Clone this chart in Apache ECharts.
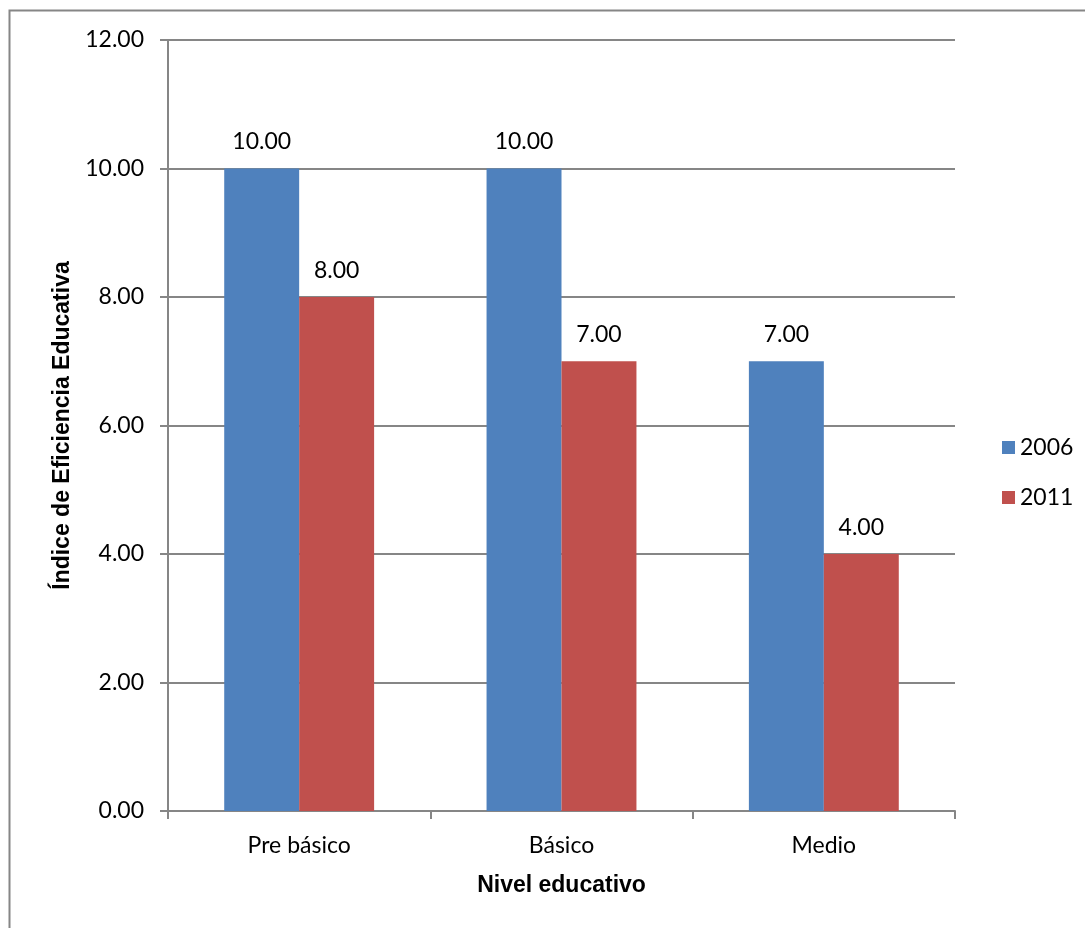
<!DOCTYPE html>
<html>
<head>
<meta charset="utf-8">
<script src="https://cdn.jsdelivr.net/npm/echarts@6/dist/echarts.min.js"></script>
<style>
  html, body { margin: 0; padding: 0; background: #fff; }
  #main { width: 1085px; height: 928px; }
</style>
</head>
<body>
<div id="main"></div>
<script>
var categories = ['Pre básico', 'Básico', 'Medio'];
var values2006 = [10, 10, 7];
var values2011 = [8, 7, 4];
var seriesNames = ['2006', '2011'];

var chart = echarts.init(document.getElementById('main'));
var font = 'Lato, "Open Sans", sans-serif';
var boldFont = '"Liberation Sans Narrow", "Liberation Sans", sans-serif';
var fs = 23;

function barLabel() {
  return {
    show: true,
    position: 'top',
    distance: 15,
    color: '#000',
    fontFamily: font,
    fontSize: fs,
    formatter: function (p) { return p.value.toFixed(2); }
  };
}

var option = {
  backgroundColor: '#ffffff',
  animation: false,
  graphic: [{
    type: 'rect',
    shape: { x: 9.5, y: 10.5, width: 1200, height: 1000 },
    style: { fill: 'none', stroke: '#868686', lineWidth: 2 }
  }],
  grid: {
    left: 168,
    top: 40,
    width: 787,
    height: 771
  },
  legend: {
    orient: 'vertical',
    left: 997,
    top: 431,
    itemWidth: 13,
    itemHeight: 13,
    itemGap: 27,
    icon: 'rect',
    textStyle: { fontFamily: font, fontSize: fs, color: '#000' },
    data: seriesNames
  },
  xAxis: {
    type: 'category',
    data: categories,
    name: 'Nivel educativo',
    nameLocation: 'middle',
    nameGap: 63,
    nameTextStyle: { fontFamily: boldFont, fontWeight: 'bold', fontSize: fs, color: '#000' },
    axisLine: { lineStyle: { color: '#868686', width: 2 } },
    axisTick: { show: true, length: 8, lineStyle: { color: '#868686', width: 2 } },
    axisLabel: { fontFamily: font, fontSize: fs, color: '#000', margin: 23 }
  },
  yAxis: {
    type: 'value',
    min: 0,
    max: 12,
    interval: 2,
    name: 'Índice de Eficiencia Educativa',
    nameLocation: 'middle',
    nameGap: 94,
    nameTextStyle: { fontFamily: boldFont, fontWeight: 'bold', fontSize: fs, color: '#000' },
    axisLine: { show: true, lineStyle: { color: '#868686', width: 2 } },
    axisTick: { show: true, length: 8, lineStyle: { color: '#868686', width: 2 } },
    splitLine: { lineStyle: { color: '#868686', width: 2 } },
    axisLabel: {
      fontFamily: font, fontSize: fs, color: '#000', margin: 24,
      formatter: function (v) { return v.toFixed(2); }
    }
  },
  series: [{
    name: seriesNames[0],
    type: 'bar',
    data: values2006,
    barGap: '0%',
    barCategoryGap: '42.86%',
    itemStyle: { color: '#4F81BD' },
    label: barLabel()
  }, {
    name: seriesNames[1],
    type: 'bar',
    data: values2011,
    barGap: '0%',
    barCategoryGap: '42.86%',
    itemStyle: { color: '#C0504D' },
    label: barLabel()
  }]
};

chart.setOption(option);
</script>
</body>
</html>
